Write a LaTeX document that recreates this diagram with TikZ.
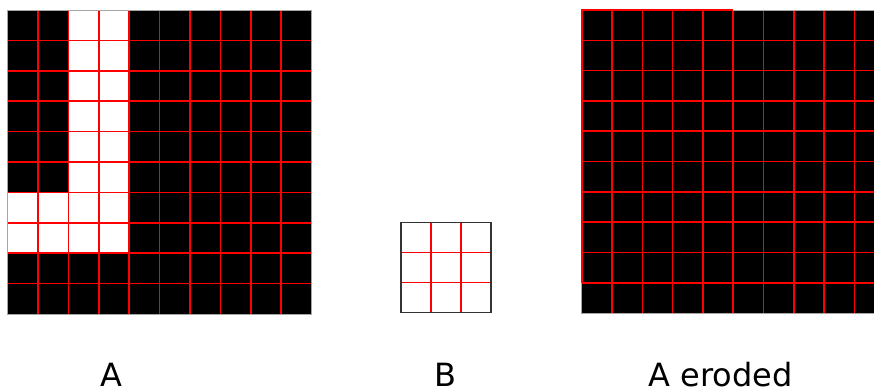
\documentclass[tikz,border=0pt]{standalone}
\usepackage{fontspec}
\setmainfont{DejaVu Sans}
\begin{document}
\begin{tikzpicture}[x=1pt,y=-1pt,
  gridline/.style={red, line width=1.6pt},
  frame/.style={gray!70, line width=0.8pt},
  lbl/.style={anchor=base, font=\fontsize{32}{40}\selectfont, inner sep=0pt}]
\useasboundingbox (0,0) rectangle (874,391);
\clip (0,0) rectangle (874,391);
% Grid A
\begin{scope}[shift={(7.5,10)}, x=30.4pt, y=-30.4pt]
  \fill[black] (0,0) rectangle (10,10);
  \fill[white] (2,0) rectangle (4,8);
  \fill[white] (0,6) rectangle (2,8);
  \foreach \i in {1,...,9} {
    \draw[gridline] (\i,0) -- (\i,10);
    \draw[gridline] (0,\i) -- (10,\i);
  }
  \draw[frame] (0,0) rectangle (10,10);
\end{scope}
% Structuring element B
\begin{scope}[shift={(401,222.3)}, x=30pt, y=-30pt]
  \fill[white] (0,0) rectangle (3,3);
  \foreach \i in {1,2} {
    \draw[gridline] (\i,0) -- (\i,3);
    \draw[gridline] (0,\i) -- (3,\i);
  }
  \draw[black!80, line width=1.4pt] (0,0) rectangle (3,3);
\end{scope}
% A eroded
\begin{scope}[shift={(581.7,10)}, x=30.3pt, y=-30.3pt]
  \fill[black] (0,0) rectangle (10,10);
  \foreach \i in {1,...,9} {
    \draw[gridline] (\i,0) -- (\i,10);
    \draw[gridline] (0,\i) -- (10,\i);
  }
  \draw[frame] (0,0) rectangle (10,10);
  \draw[gridline] (0,9) -- (0,0) -- (5,0);
\end{scope}
% Labels
\node[lbl] (la) at (111.3,386.5) {A};
\node[lbl] (lb) at (445,386.5) {B};
\node[lbl] (lc) at (720.7,386.5) {A eroded};
\end{tikzpicture}
\end{document}
